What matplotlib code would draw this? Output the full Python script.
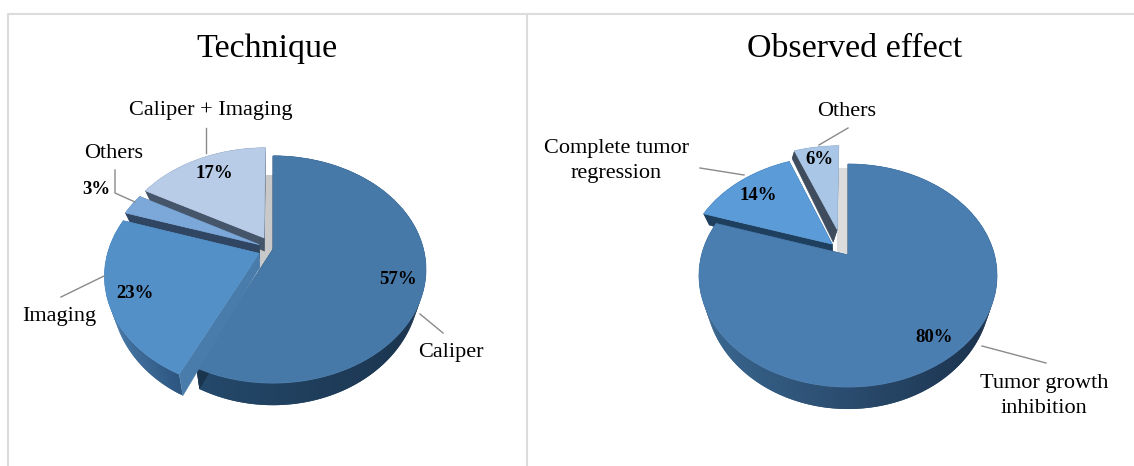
import numpy as np
import matplotlib
matplotlib.use("Agg")
import matplotlib.pyplot as plt
from matplotlib.collections import PolyCollection
from matplotlib.colors import to_rgb
from matplotlib.transforms import Transform

plt.rcParams["font.family"] = ["Liberation Serif", "DejaVu Serif"]

# Survey shares, in percent
technique_categories = ["Caliper", "Imaging", "Others", "Caliper + Imaging"]
technique_values = [57, 23, 3, 17]
effect_categories = ["Tumor growth\ninhibition", "Complete tumor\nregression", "Others"]
effect_values = [80, 14, 6]


class DiscProjection(Transform):
    """Perspective view of a unit disc, mapped to canvas pixels."""
    input_dims = 2
    output_dims = 2

    def __init__(self, apex, a, b, k):
        super().__init__()
        self.apex, self.a, self.b, self.k = apex, a, b, k

    def transform_non_affine(self, values):
        values = np.asarray(values, dtype=float)
        w = 1 + self.k * values[:, 1]
        return np.column_stack((self.apex[0] + self.a * values[:, 0] / w,
                                self.apex[1] - self.b * values[:, 1] / w))


def lower_face(pts, apex, wall, dx=0.0):
    """Drop points of the top face to the underside of the extruded pie."""
    rel = pts[:, 0] - apex[0]
    up = apex[1] - pts[:, 1]
    return np.column_stack((apex[0] + 0.96 * rel + dx, pts[:, 1] + wall - 0.06 * up))


def draw_pie(ax, values, panel):
    proj = panel["proj"]
    apex = proj.apex
    wall = panel["wall"]
    wedges, _ = ax.pie(values, explode=panel["explode"], colors=panel["tops"],
                       startangle=90, counterclock=False, frame=True,
                       wedgeprops={"linewidth": 0})
    edges = np.concatenate(([0], np.cumsum(values))) / np.sum(values) * 2 * np.pi
    for rank, i in enumerate(panel["order"]):
        t0, t1 = edges[i], edges[i + 1]
        mid = (t0 + t1) / 2
        e = panel["explode"][i]
        ox, oy = e * np.sin(mid) + panel["nudge"][i], e * np.cos(mid)
        wall_dx = panel["wall_dx"][i]
        z = 5 + 3 * rank

        # outer rim, shaded from left to right; neighbouring quads overlap
        ts = np.linspace(t0, t1, max(int(np.degrees(t1 - t0)), 2) + 1)
        arc = proj.transform_non_affine(
            np.column_stack((ox + np.sin(ts), oy + np.cos(ts))))
        low = lower_face(arc, apex, wall, wall_dx)
        last = len(ts) - 1
        quads = [np.array([arc[j], arc[min(j + 2, last)], low[min(j + 2, last)], low[j]])
                 for j in range(last)]
        c0, c1 = (np.array(to_rgb(c)) for c in panel["rims"][i])
        span = (arc[:, 0] - arc[:, 0].min()) / np.ptp(arc[:, 0])
        cols = [c0 + (c1 - c0) * s for s in span[:-1]]
        ax.add_collection(PolyCollection(quads, facecolors=cols, linewidths=0,
                                         antialiaseds=True, zorder=z))

        # cut faces of the slice
        for t in (t0, t1):
            edge = proj.transform_non_affine(
                np.array([[ox, oy], [ox + np.sin(t), oy + np.cos(t)]]))
            lo = lower_face(edge, apex, wall, wall_dx)
            ax.fill([edge[0, 0], edge[1, 0], lo[1, 0], lo[0, 0]],
                    [edge[0, 1], edge[1, 1], lo[1, 1], lo[0, 1]],
                    color=panel["walls"][i], lw=0.3, zorder=z + 1)

        wedges[i].set_center((ox, oy))
        wedges[i].set_edgecolor(panel["tops"][i])
        wedges[i].set_linewidth(0.5)
        wedges[i].set_transform(proj + ax.transData)
        wedges[i].set_zorder(z + 2)


fig = plt.figure(figsize=(11.34, 4.66), dpi=100)
ax = fig.add_axes([0, 0, 1, 1])

panels = [
    dict(proj=DiscProjection((273, 249), 150.5, 110, 0.18), wall=14,
         explode=[0, 0.1, 0.1, 0.12], order=[3, 2, 0, 1],
         nudge=[0, 0, 0, 0], wall_dx=[0, 0, 0, 0],
         tops=["#4779a8", "#5490c8", "#7ca8d9", "#b8cce8"],
         rims=[("#24496b", "#1b344e"), ("#4a7cab", "#2d5680"),
               ("#2f4562", "#2f4562"), ("#46566a", "#46566a")],
         walls=["#1b344e", "#4a7cab", "#2f4562", "#46566a"],
         shade_x=[266, 273, 273, 258, 258], shade_y=[175, 175, 250, 273, 250],
         shade="#c9c9c9"),
    dict(proj=DiscProjection((848, 255), 146.5, 107.8, 0.184), wall=14,
         explode=[0, 0.15, 0.25], order=[2, 1, 0],
         nudge=[0, 0, -0.03], wall_dx=[0, 0, -4.5],
         tops=["#4a7db0", "#5b9bd7", "#a9c6e6"],
         rims=[("#3a6790", "#1a314c"), ("#1f3f5e", "#1f3f5e"), ("#3f4c5e", "#3f4c5e")],
         walls=["#1a314c", "#1f3f5e", "#3f4c5e"],
         shade_x=[837, 848, 848, 837], shade_y=[168, 168, 255, 255],
         shade="#dcdcdc"),
]

draw_pie(ax, technique_values, panels[0])
draw_pie(ax, effect_values, panels[1])

ax.set_aspect("auto")
ax.set_xlim(0, 1134)
ax.set_ylim(466, 0)
ax.axis("off")

for panel in panels:
    ax.fill(panel["shade_x"], panel["shade_y"], color=panel["shade"], lw=0, zorder=2)

# panel frame
frame_style = dict(color="#dcdcdc", lw=1.5, zorder=1, solid_capstyle="butt")
ax.plot([8, 1134], [13.5, 13.5], **frame_style)
ax.plot([8, 8], [13, 466], **frame_style)
ax.plot([527, 527], [13, 466], **frame_style)

ax.text(267, 49, "Technique", fontsize=24.5, ha="center", va="center")
ax.text(855, 49, "Observed effect", fontsize=24.5, ha="center", va="center")

# category labels and their leader lines
label_xy = [[(451, 353), (59, 317), (114, 154), (211, 111)],
            [(1044, 396), (616, 161), (847, 112)]]
leaders = [[[(420, 314), (443, 333)], [(104, 276), (61, 297)],
            [(115, 170), (115, 193), (135, 202)], [(206, 128), (206, 153)]],
           [[(982, 346), (1046, 363)], [(700, 168), (744, 175)],
            [(848, 128), (819, 145)]]]
percent_xy = [[(398, 279), (135, 294), (96, 189), (214, 173)],
              [(934, 338), (758, 196), (819, 160)]]

for cats, vals, lxy, lead, pxy in zip((technique_categories, effect_categories),
                                      (technique_values, effect_values),
                                      label_xy, leaders, percent_xy):
    for cat, val, (lx, ly), line, (px, py) in zip(cats, vals, lxy, lead, pxy):
        ax.text(lx, ly, cat, fontsize=16, ha="center", va="center",
                linespacing=1.4, zorder=40)
        xs, ys = zip(*line)
        ax.plot(xs, ys, color="#8a8a8a", lw=1, zorder=30)
        ax.text(px, py, f"{val}%", fontsize=13.5, fontweight="bold",
                ha="center", va="center", zorder=40)

fig.savefig("out.png", dpi=100, facecolor="white")
